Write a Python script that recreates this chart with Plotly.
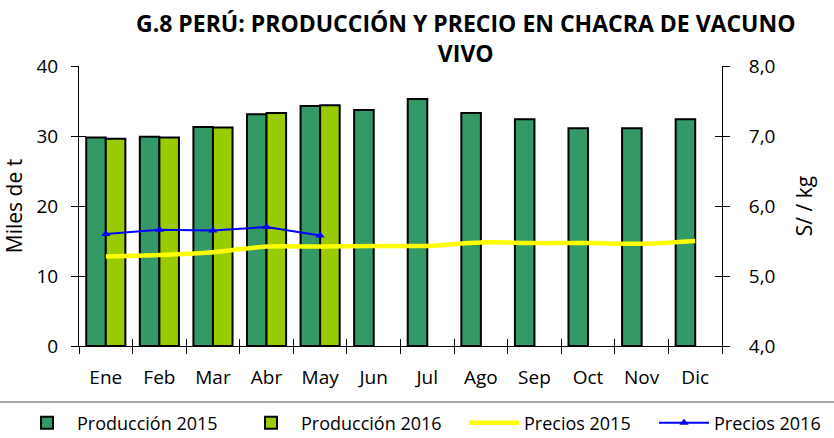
import plotly.graph_objects as go

meses = ["Ene", "Feb", "Mar", "Abr", "May", "Jun", "Jul", "Ago", "Sep", "Oct", "Nov", "Dic"]
prod_2015 = [29.8, 29.9, 31.3, 33.1, 34.3, 33.7, 35.3, 33.3, 32.4, 31.1, 31.1, 32.4]
prod_2016 = [29.6, 29.8, 31.2, 33.3, 34.4, None, None, None, None, None, None, None]
precios_2015 = [5.28, 5.30, 5.34, 5.42, 5.42, 5.43, 5.43, 5.48, 5.47, 5.47, 5.46, 5.50]
precios_2016 = [5.60, 5.66, 5.65, 5.70, 5.58, None, None, None, None, None, None, None]

FONT = "Open Sans"
W, H = 834, 438
L, R, T, B = 79, 112, 66, 92
pw = W - L - R
ph = H - T - B

fig = go.Figure()
fig.add_trace(go.Bar(x=meses, y=prod_2015, name="Producción 2015", legend="legend",
                     marker=dict(color="#339966", line=dict(color="black", width=2))))
fig.add_trace(go.Bar(x=meses, y=prod_2016, name="Producción 2016", legend="legend2",
                     marker=dict(color="#99CC00", line=dict(color="black", width=2))))
fig.add_trace(go.Scatter(x=meses, y=precios_2015, name="Precios 2015", yaxis="y2",
                         legend="legend3",
                         mode="lines", line=dict(color="#FFFF00", width=4.5, shape="spline")))
fig.add_trace(go.Scatter(x=meses, y=precios_2016, name="Precios 2016", yaxis="y2",
                         legend="legend4",
                         mode="lines+markers", line=dict(color="#0000FF", width=2),
                         marker=dict(symbol="triangle-up", size=8, color="#0000FF")))
# helper traces (no data) so the overlay axes that draw the inner half of the ticks render
fig.add_trace(go.Scatter(x=[None], y=[None], xaxis="x2", yaxis="y3", showlegend=False,
                         hoverinfo="skip"))
fig.add_trace(go.Scatter(x=[None], y=[None], xaxis="x", yaxis="y4", showlegend=False,
                         hoverinfo="skip"))

tick_font = dict(family=FONT, size=19, color="black")
title_font = dict(family=FONT, size=21, color="black")
leg_font = dict(family=FONT, size=18, color="black")


def leg(xpx):
    return dict(orientation="h", xref="container", yref="container",
                x=xpx / W, xanchor="left", y=(H - 423) / H, yanchor="middle",
                font=leg_font, bgcolor="rgba(0,0,0,0)", borderwidth=0, itemwidth=50)


fig.update_layout(
    width=W, height=H,
    margin=dict(l=L, r=R, t=T, b=B, autoexpand=False),
    paper_bgcolor="white", plot_bgcolor="white",
    separators=",.",
    barmode="group", bargap=0.27, bargroupgap=0,
    xaxis=dict(type="category", showline=True, linecolor="black", linewidth=1,
               ticks="outside", ticklen=7, tickcolor="black", tickson="boundaries",
               tickfont=tick_font, showgrid=False, range=[-0.5, 11.5],
               ticklabelstandoff=14),
    xaxis2=dict(overlaying="x", anchor="y", side="bottom", range=[-0.5, 11.5],
                tickmode="array", tickvals=[i - 0.5 for i in range(13)],
                ticks="inside", ticklen=7, tickcolor="black", showticklabels=False,
                showline=False, showgrid=False, zeroline=False),
    yaxis=dict(range=[0, 40], dtick=10, showline=True, linecolor="black", linewidth=1,
               ticks="outside", ticklen=7, tickcolor="black", tickfont=tick_font,
               showgrid=False, zeroline=False, ticklabelstandoff=9,
               title=dict(text="Miles de t", font=title_font, standoff=10)),
    yaxis2=dict(range=[4, 8], dtick=1, tickformat=".1f", overlaying="y", side="right",
                anchor="x", showline=True, linecolor="black", linewidth=1,
                ticks="outside", ticklen=7, tickcolor="black", tickfont=tick_font,
                showgrid=False, zeroline=False, ticklabelstandoff=15,
                title=dict(text="S/ / kg", font=title_font, standoff=22)),
    yaxis3=dict(overlaying="y", anchor="x2", side="left", range=[0, 40], dtick=10,
                ticks="inside", ticklen=7, tickcolor="black", showticklabels=False,
                showline=False, showgrid=False, zeroline=False),
    yaxis4=dict(overlaying="y", anchor="x", side="right", range=[4, 8], dtick=1,
                ticks="inside", ticklen=7, tickcolor="black", showticklabels=False,
                showline=False, showgrid=False, zeroline=False),
    legend=leg(17),
    legend2=leg(241),
    legend3=leg(464),
    legend4=leg(654),
    showlegend=True,
)

fig.add_annotation(text="<b>G.8 PERÚ: PRODUCCIÓN Y PRECIO EN CHACRA DE VACUNO<br>VIVO</b>",
                   xref="paper", yref="paper", x=(466 - L) / pw, xanchor="center",
                   y=1 + (T - 5) / ph, yanchor="top", showarrow=False,
                   font=dict(family=FONT, size=23, color="black"))

# separator line above legend
fig.add_shape(type="line", xref="paper", yref="paper",
              x0=-L / pw, x1=(W - L) / pw,
              y0=-(402 - (H - B)) / ph, y1=-(402 - (H - B)) / ph,
              line=dict(color="#888888", width=1.5))

fig.write_html("out.html", config={"displayModeBar": False},
               post_script="document.body.style.margin='0';document.body.style.padding='0';")
